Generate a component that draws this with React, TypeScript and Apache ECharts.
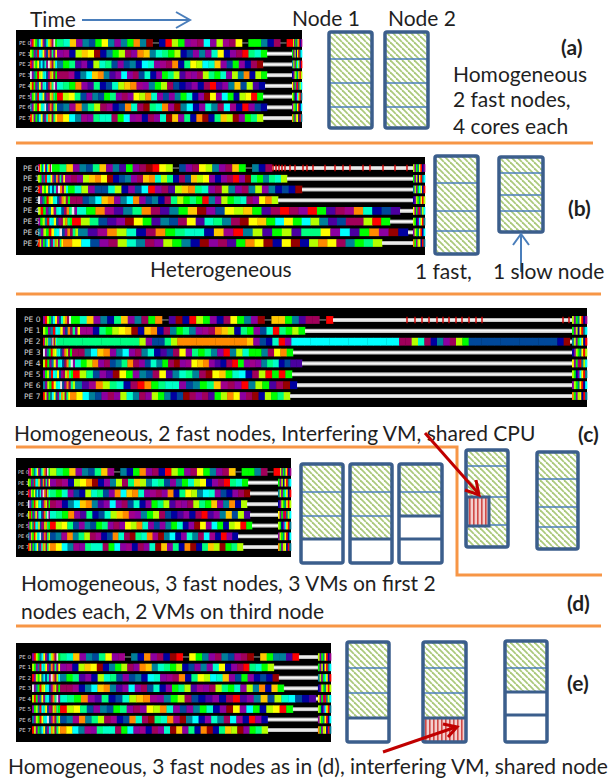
import React, { useEffect, useRef } from "react";
import * as echarts from "echarts";

// ---------- DATA ----------
const PE_LABELS = ["PE 0", "PE 1", "PE 2", "PE 3", "PE 4", "PE 5", "PE 6", "PE 7"];

// colour codes of the Projections-style timeline
const PALETTE: Record<string, string> = {
  r: "#ff0000", o: "#ff8a00", a: "#ffc800", y: "#ffff00", l: "#b4ff00", g: "#00ff00",
  s: "#00ff80", m: "#00ffc8", c: "#00ffff", t: "#00809a", b: "#00489a", n: "#0000a0",
  p: "#4b00a0", v: "#8c00a0", u: "#a0008c", k: "#a0005a", d: "#960000", w: "#e8e8e8",
};

// startup phase (thin stripes) and final phase, per PE
const startupStripes = [
  "vrlgtcyubmlokwg", "lgvtrcmyuboksvy", "rvlgytcbmuwoklc", "wvtgrlymcbuolkg",
  "lrgvtyumcbkoswv", "vgltrcmybuklosg", "tvlgrymcwbuoksl", "rlvgtcybumolksy",
];
const finalStripes = ["lvgtyrnu", "gvlnyrtc", "tlvgcynr", "nvlgtyrl", "yvgurtlc", "lgnvcyrt", "vlgtyrnc", "ogvlynrt"];

// (a) homogeneous
const aBlocks = [
  "smavtbgytvtgotd-nrlgvukcvluky-ggtnk-r",
  "vunlaydntglkvoatmsglnbvtvmynvkrsmg",
  "tgspvnlmsbvbtncmvukonsylcmavbgvnkd",
  "kkuntcaotpvcvkbmnvgslpuvklsgmvltonlg",
  "msgovpsnbmlaouvtglkbnpvnkrpvtablpn",
  "rlysbvtbgsvkvylomvbvtgmnvdyvcgnlyrg",
  "btuotslkunbomkdsmoudtcnvmtkcunrvbn",
  "oyctuvsmmkgcvunkvmdavsnodnsaldvgsl",
];
const aStartupEnd = [27, 27, 27, 27, 27, 27, 27, 27];
const aBusyEnd = [263, 237, 233, 237, 235, 233, 237, 233];
const aIdleEnd = 262;
const aEnd = 272;

// (b) heterogeneous
const bBlocks = [
  "gsavtbsavtpgvkdryl-bvkyltvkag-tnk",
  "ukvlaoydnbtvkaomlsnkbalyvnvkrvdsgtsml",
  "gmlvbbmlnvbcrvkplaosmvkltvktlvtnbnd",
  "kkbtcaovtcovbtnkslgsgrtvlgsmkvyol",
  "mgouptsokptgadvbylagpkrkvrgpkuomnbp",
  "rlsbpvdygptbkypmstkdyagcygcltpbkklrg",
  "tpuolmnkogsmmnaurtlpglpssyvcpgovdn",
  "oycbvklmtkvlgtndvkpgoydnydnloyktgsl",
];
const bStartupEnd = [15, 27, 30, 32, 39, 34, 40, 25];
const bBusyEnd = [234, 249, 264, 240, 362, 352, 370, 344];
const bIdleEnd = 375;
const bEnd = 387;
const bMarks = [235, 238, 241, 244, 247, 252, 257, 265, 269, 275, 287, 297, 305, 312, 325, 332, 345, 357, 369];

// (c) interfering VM, shared CPU
const cBlocks = [
  "gmavtnsavtkgo-pdnrlgvnkygtvd-aagtpkk-r",
  "uunsglyadnaonktgstvukoalnsgvbmrsglg",
  "ssssssssssssslvbbsloooooooooooavbnmrvccccccccccccccccckklmkntvklgbbbbbbbbbbbbbbnd",
  "kktcaovtcvktmnpbkyvsgstvrtlmggtkyog",
  "mglovkbtsokvbmtgkdvuyaovpnkrgvuvtsmnbpp",
  "rlsbvpdygvtbkyptmstkdyagmcnklrgrg",
  "tpuolsmnkrogsmmvbtgsaukvrtlgpkdn",
  "oyctbvkvlmtkvlgtnbdkvkpgloyvkdnlgsl",
];
const cStartupEnd = [30, 37, 14, 29, 32, 30, 32, 27];
const cBusyEnd = [290, 262, 527, 250, 259, 249, 254, 247];
const cIdleEnd = 529;
const cEnd = 544;
const cMarks = [364, 372, 379, 386, 394, 400, 406, 413, 419, 426, 433, 439, 520, 526];

// (d) VMs
const dBlocks = [
  "lsgavtbsau-tngovknrlgvkygtvka-ggtk-r",
  "vkunlyodnvtlksaltmsbvtgmlynvkrsmg",
  "sgmvbnlmsbvocaomvukvonsyltcmvbnvkd",
  "kuntcaotpvcvkbmnvgslpuvklsgavtonl",
  "msgovpsnbmlaouvtglkbnpvnkrpvtablp",
  "rlysbvtbgsvkvylomvbvtgmnvdyvcgnlyrg",
  "btuotslkunbomkdsmoudtcnvmtkcunrvn",
  "oyctuvsmmkgcvunkvmdavsnodnsaldgsl",
];
const dStartupEnd = [22, 22, 22, 22, 22, 22, 22, 22];
const dBusyEnd = [252, 220, 222, 219, 222, 224, 210, 215];
const dIdleEnd = 250;
const dEnd = 263;

// (e) VMs, interfering VM on shared node
const eBlocks = [
  "smavtbsyvu-tnovkndr-ygtvktbukd-agttpr",
  "vunlaydntglkvoatmsglnbvtvmynvkrsmgl",
  "tgspvnlmsbvbtncmvukonsylcmavbgvnbnd",
  "kkuntcaotpvcvkbmnvgslpuvklsgmvltonag",
  "msgovpsnbmlaouvtglkbnpvnkrpvtablmcbnp",
  "rlysbvtbgsvkvylomvbvtgmnvdyvcgnlyrg",
  "btuotslkunbomkdsmoudtcnvmtkcunrvn",
  "oyctuvsmmkgcvunkvmdavsnodnsaldvgsl",
];
const eStartupEnd = [28, 28, 28, 28, 28, 28, 28, 28];
const eBusyEnd = [266, 241, 246, 251, 283, 260, 235, 235];
const eIdleEnd = 285;
const eEnd = 298;

// ---------- LAYOUT ----------
type Panel = {
  left: number; top: number; width: number; height: number;
  xMin: number; yMin: number; yMax: number;
  blocks: string[]; startupEnd: number[]; busyEnd: number[]; idleEnd: number; end: number;
  marks: number[]; labelSize: number; labelPad: number;
};

const PANELS: Panel[] = [
  { left: 16, top: 30, width: 286, height: 98, xMin: -14, yMin: -1.21, yMax: 7.93, blocks: aBlocks, startupEnd: aStartupEnd, busyEnd: aBusyEnd, idleEnd: aIdleEnd, end: aEnd, marks: [], labelSize: 5.5, labelPad: 3 },
  { left: 16, top: 157, width: 409, height: 98, xMin: -22, yMin: -1.03, yMax: 8.12, blocks: bBlocks, startupEnd: bStartupEnd, busyEnd: bBusyEnd, idleEnd: bIdleEnd, end: bEnd, marks: bMarks, labelSize: 7.5, labelPad: 7 },
  { left: 16, top: 308, width: 571, height: 99, xMin: -27, yMin: -1.1, yMax: 8.01, blocks: cBlocks, startupEnd: cStartupEnd, busyEnd: cBusyEnd, idleEnd: cIdleEnd, end: cEnd, marks: cMarks, labelSize: 7.5, labelPad: 8 },
  { left: 16, top: 458, width: 275, height: 99, xMin: -12, yMin: -1.3, yMax: 7.93, blocks: dBlocks, startupEnd: dStartupEnd, busyEnd: dBusyEnd, idleEnd: dIdleEnd, end: dEnd, marks: [], labelSize: 5, labelPad: 2 },
  { left: 16, top: 643, width: 315, height: 99, xMin: -16, yMin: -1.34, yMax: 8.15, blocks: eBlocks, startupEnd: eStartupEnd, busyEnd: eBusyEnd, idleEnd: eIdleEnd, end: eEnd, marks: [], labelSize: 5.5, labelPad: 3 },
];

const FONT = "Lato, 'Open Sans', sans-serif";
const FONT_SIZE = 21;
const TEXT_COLOR = "#1f1f1f";
const BORDER = "#3b5e8c";
const THIN = "#4a7ebb";
const ORANGE = "#f79646";
const DARKRED = "#c00000";

function makeRender(p: Panel) {
  return (params: any, api: any) => {
    const row = api.value(0);
    const children: any[] = [];
    const X = (t: number) => api.coord([t, row])[0];
    const yc = api.coord([0, row])[1];
    const rowH = api.size([0, 1])[1];
    const bh = rowH * 0.72;
    const seg = (str: string, t0: number, t1: number) => {
      const n = str.length;
      for (let i = 0; i < n; i++) {
        const ch = str[i];
        const x0 = X(t0 + ((t1 - t0) * i) / n);
        const x1 = X(t0 + ((t1 - t0) * (i + 1)) / n);
        if (ch === "-") {
          children.push({ type: "line", shape: { x1: x0, y1: yc, x2: x1, y2: yc }, style: { stroke: "#9a9a9a", lineWidth: 1 } });
        } else {
          children.push({ type: "rect", shape: { x: x0, y: yc - bh / 2, width: x1 - x0 + 0.35, height: bh }, style: { fill: PALETTE[ch] || "#888" } });
        }
      }
    };
    seg(startupStripes[row], 0, p.startupEnd[row]);
    seg(p.blocks[row], p.startupEnd[row], p.busyEnd[row]);
    const idleStart = p.busyEnd[row];
    if (p.idleEnd > idleStart) {
      const ih = rowH * 0.38;
      children.push({
        type: "rect",
        shape: { x: X(idleStart), y: yc - ih / 2, width: X(p.idleEnd) - X(idleStart), height: ih },
        style: {
          fill: new echarts.graphic.LinearGradient(0, 0, 0, 1, [
            { offset: 0, color: "#9a9a9a" },
            { offset: 0.45, color: "#fdfdfd" },
            { offset: 1, color: "#bcbcbc" },
          ]),
        },
      });
    }
    if (row === 0) {
      p.marks.forEach((m) => {
        children.push({ type: "rect", shape: { x: X(m) - 0.7, y: yc - rowH * 0.3, width: 1.4, height: rowH * 0.6 }, style: { fill: "#d40000" } });
      });
    }
    seg(finalStripes[row], Math.max(p.idleEnd, p.busyEnd[row]), p.end);
    children.push({
      type: "text",
      style: { text: PE_LABELS[row], x: X(p.xMin) + p.labelPad, y: yc, fill: "#d8d8d8", fontSize: p.labelSize, fontFamily: "DejaVu Sans", verticalAlign: "middle", align: "left" },
    });
    return { type: "group", children };
  };
}

function makeGreenHatch() {
  const s = 6;
  const c = document.createElement("canvas");
  c.width = s; c.height = s;
  const g = c.getContext("2d")!;
  g.fillStyle = "#ffffff"; g.fillRect(0, 0, s, s);
  g.strokeStyle = "#abc97c"; g.lineWidth = 1.8;
  for (const k of [-1, 0, 1]) { g.beginPath(); g.moveTo(k * s, 0); g.lineTo(k * s + s, s); g.stroke(); }
  return { image: c.toDataURL(), repeat: "repeat", imageWidth: s, imageHeight: s };
}
function makeRedHatch() {
  const s = 4;
  const c = document.createElement("canvas");
  c.width = s; c.height = s;
  const g = c.getContext("2d")!;
  g.fillStyle = "#f3cfce"; g.fillRect(0, 0, s, s);
  g.fillStyle = "#d04a47"; g.fillRect(1, 0, 1.6, s);
  return { image: c.toDataURL(), repeat: "repeat", imageWidth: s, imageHeight: s };
}

type Box = { x: number; y: number; w: number; h: number; divs: [number, number][]; cells: string };
const BOXES: Box[] = [
  { x: 329, y: 32, w: 43, h: 96, divs: [[59, 0], [83, 0], [107, 0]], cells: "hhhh" },
  { x: 385, y: 32, w: 43, h: 96, divs: [[59, 0], [83, 0], [107, 0]], cells: "hhhh" },
  { x: 435, y: 156, w: 43, h: 98, divs: [[183, 0], [211, 0], [231, 0]], cells: "hhhh" },
  { x: 499, y: 157, w: 44, h: 75, divs: [[173, 0], [195, 0], [211, 0]], cells: "hhhh" },
  { x: 301, y: 464, w: 42, h: 99, divs: [[492, 0], [516, 0], [539, 1]], cells: "hhhw" },
  { x: 350, y: 464, w: 42, h: 99, divs: [[492, 0], [516, 0], [539, 1]], cells: "hhhw" },
  { x: 399, y: 464, w: 43, h: 99, divs: [[492, 0], [516, 1], [539, 1]], cells: "hhww" },
  { x: 466, y: 450, w: 42, h: 97, divs: [[466, 0], [497, 0], [525, 0]], cells: "hhhh" },
  { x: 537, y: 452, w: 41, h: 97, divs: [[479, 0], [507, 0], [527, 0]], cells: "hhhh" },
  { x: 347, y: 642, w: 42, h: 100, divs: [[668, 0], [693, 0], [718, 1]], cells: "hhhw" },
  { x: 423, y: 642, w: 43, h: 100, divs: [[668, 0], [693, 0], [718, 1]], cells: "hhhr" },
  { x: 505, y: 641, w: 42, h: 101, divs: [[668, 0], [692, 1], [715, 1]], cells: "hhww" },
];

function boxElements(b: Box, hatch: any, red: any) {
  const els: any[] = [];
  els.push({ type: "rect", shape: { x: b.x, y: b.y, width: b.w, height: b.h }, style: { fill: hatch } });
  const edges = [b.y, ...b.divs.map((d) => d[0]), b.y + b.h];
  b.cells.split("").forEach((c, i) => {
    if (c !== "h") {
      els.push({ type: "rect", shape: { x: b.x, y: edges[i], width: b.w, height: edges[i + 1] - edges[i] }, style: { fill: c === "w" ? "#ffffff" : red } });
    }
  });
  b.divs.forEach(([y, thick]) => {
    els.push({ type: "line", shape: { x1: b.x, y1: y, x2: b.x + b.w, y2: y }, style: { stroke: thick ? BORDER : THIN, lineWidth: thick ? 3 : 1.5 } });
  });
  els.push({ type: "rect", shape: { x: b.x, y: b.y, width: b.w, height: b.h, r: 2 }, style: { fill: "none", stroke: BORDER, lineWidth: 3.5 } });
  return els;
}

const TEXTS: { t: string; x: number; y: number; bold?: boolean }[] = [
  { t: "Time", x: 30, y: 18 },
  { t: "Node 1", x: 292, y: 17 },
  { t: "Node 2", x: 388, y: 17 },
  { t: "(a)", x: 561, y: 46, bold: true },
  { t: "Homogeneous", x: 453, y: 73 },
  { t: "2 fast nodes,", x: 453, y: 98 },
  { t: "4 cores each", x: 453, y: 125 },
  { t: "(b)", x: 568, y: 207, bold: true },
  { t: "Heterogeneous", x: 150, y: 268 },
  { t: "1 fast,", x: 415, y: 270 },
  { t: "1 slow node", x: 493, y: 270 },
  { t: "Homogeneous, 2 fast nodes, Interfering VM, shared CPU", x: 14, y: 432 },
  { t: "(c)", x: 578, y: 433, bold: true },
  { t: "Homogeneous, 3 fast nodes, 3 VMs on first 2", x: 21, y: 582 },
  { t: "nodes each, 2 VMs on third node", x: 21, y: 610 },
  { t: "(d)", x: 567, y: 602, bold: true },
  { t: "(e)", x: 567, y: 682, bold: true },
  { t: "Homogeneous, 3 fast nodes as in (d), interfering VM, shared node", x: 8, y: 765 },
];

function buildGraphics() {
  const hatch = makeGreenHatch();
  const red = makeRedHatch();
  const els: any[] = [];
  const orange = (pts: number[][]) => els.push({ type: "polyline", shape: { points: pts }, style: { stroke: ORANGE, lineWidth: 3, fill: "none" } });
  orange([[16, 143], [593, 143]]);
  orange([[16, 294], [601, 294]]);
  orange([[16, 447], [457, 447], [457, 575], [602, 575]]);
  orange([[16, 626], [601, 626]]);
  BOXES.forEach((b) => els.push(...boxElements(b, hatch, red)));
  els.push({ type: "rect", shape: { x: 467, y: 497, width: 22, height: 29 }, style: { fill: red, stroke: BORDER, lineWidth: 3 } });
  // blue arrows
  els.push({ type: "line", shape: { x1: 82, y1: 20, x2: 189, y2: 20 }, style: { stroke: "#4a7ebb", lineWidth: 2 } });
  els.push({ type: "polyline", shape: { points: [[176, 12], [190, 20], [176, 28]] }, style: { stroke: "#4a7ebb", lineWidth: 2, fill: "none" } });
  els.push({ type: "line", shape: { x1: 521, y1: 272, x2: 521, y2: 235 }, style: { stroke: "#4a7ebb", lineWidth: 2 } });
  els.push({ type: "polyline", shape: { points: [[513, 245], [521, 234], [529, 245]] }, style: { stroke: "#4a7ebb", lineWidth: 2, fill: "none" } });
  // texts
  TEXTS.forEach((tx) => {
    els.push({
      type: "text",
      style: { text: tx.t, x: tx.x, y: tx.y, fill: TEXT_COLOR, fontSize: FONT_SIZE, fontFamily: FONT, fontWeight: tx.bold ? "bold" : "normal", verticalAlign: "middle", align: "left" },
    });
  });
  // red arrows
  els.push({ type: "line", shape: { x1: 425, y1: 433, x2: 478, y2: 493 }, style: { stroke: DARKRED, lineWidth: 3 } });
  els.push({ type: "polyline", shape: { points: [[476, 480], [479, 495], [465, 490]] }, style: { stroke: DARKRED, lineWidth: 3, fill: "none" } });
  els.push({ type: "line", shape: { x1: 383, y1: 752, x2: 456, y2: 727 }, style: { stroke: DARKRED, lineWidth: 3 } });
  els.push({ type: "polyline", shape: { points: [[448, 737], [457, 727], [443, 724]] }, style: { stroke: DARKRED, lineWidth: 3, fill: "none" } });
  return els;
}

export default function App() {
  const ref = useRef<HTMLDivElement>(null);
  useEffect(() => {
    if (!ref.current) return;
    const chart = echarts.init(ref.current, null, { renderer: "svg" });
    chart.setOption({
      animation: false,
      grid: PANELS.map((p) => ({ left: p.left, top: p.top, width: p.width, height: p.height, show: true, backgroundColor: "#000000", borderWidth: 0 })),
      xAxis: PANELS.map((p, i) => ({ type: "value", gridIndex: i, min: p.xMin, max: p.end, show: false })),
      yAxis: PANELS.map((p, i) => ({ type: "value", gridIndex: i, min: p.yMin, max: p.yMax, inverse: true, show: false })),
      series: PANELS.map((p, i) => ({
        type: "custom",
        xAxisIndex: i,
        yAxisIndex: i,
        silent: true,
        renderItem: makeRender(p),
        data: PE_LABELS.map((_, r) => [r]),
      })),
      graphic: { elements: buildGraphics() },
    });
    return () => chart.dispose();
  }, []);
  return <div ref={ref} style={{ position: "absolute", left: 0, top: 0, width: 616, height: 779 }} />;
}
